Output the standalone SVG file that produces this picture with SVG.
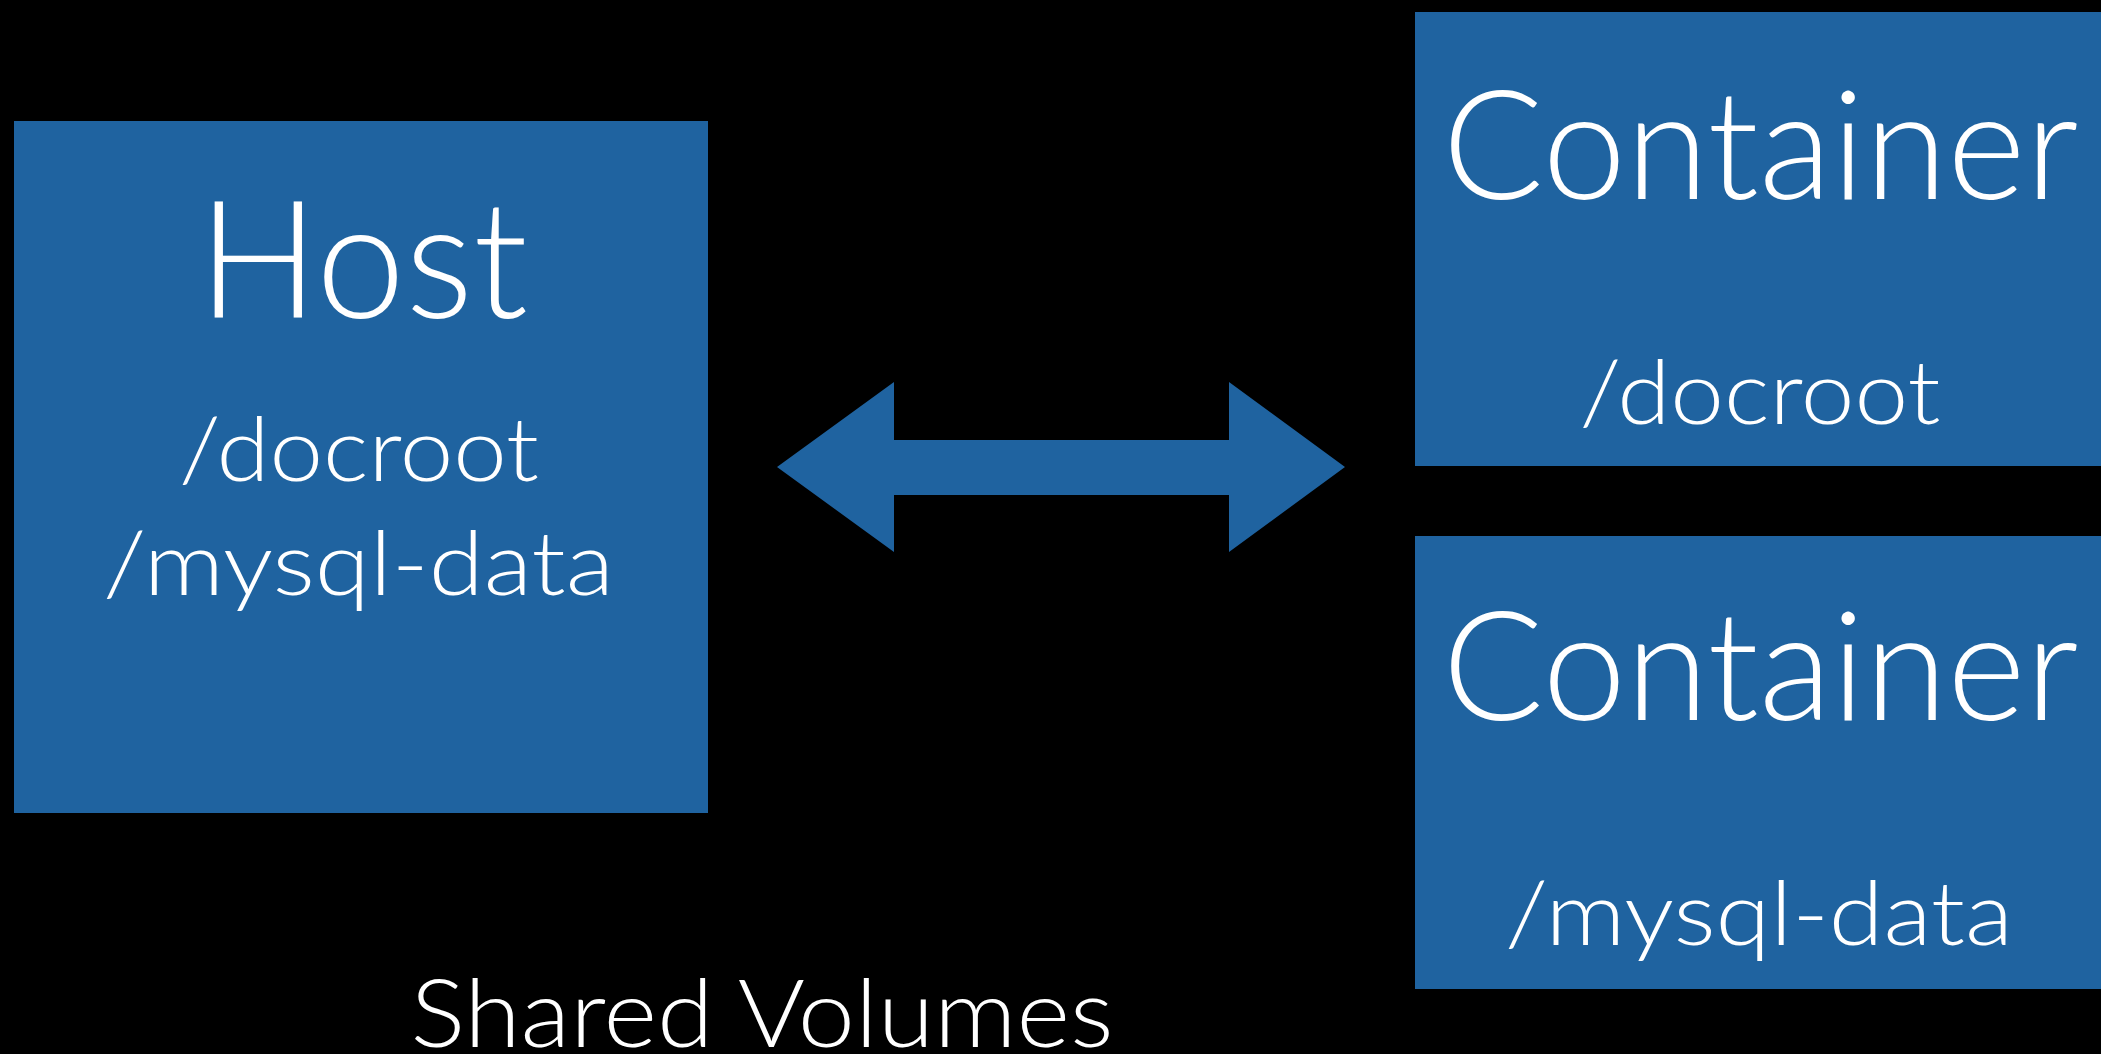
<svg xmlns="http://www.w3.org/2000/svg" width="2101" height="1054" viewBox="0 0 2101 1054">
<style>
.box{fill:#1f63a0}
.t{fill:#ffffff;font-family:"Lato","Liberation Sans",Arial,sans-serif;font-weight:300;text-anchor:middle}
.host{font-size:163px}
.big{font-size:153px}
.mid{font-size:88px}
.cap{font-size:94px}
</style>
<rect x="0" y="0" width="2101" height="1054" fill="#000000"/>
<g id="host">
<rect class="box" x="14" y="121" width="694" height="692"/>
<text class="t host" x="363" y="318" textLength="330" lengthAdjust="spacingAndGlyphs">Host</text>
<text class="t mid" x="359" y="481" textLength="360" lengthAdjust="spacingAndGlyphs">/docroot</text>
<text class="t mid" x="358.5" y="595" textLength="511" lengthAdjust="spacingAndGlyphs">/mysql-data</text>
</g>
<g id="container-docroot">
<rect class="box" x="1415" y="12" width="686" height="454"/>
<text class="t big" x="1760.5" y="199" textLength="636" lengthAdjust="spacingAndGlyphs">Container</text>
<text class="t mid" x="1760" y="424" textLength="361" lengthAdjust="spacingAndGlyphs">/docroot</text>
</g>
<g id="container-mysql">
<rect class="box" x="1415" y="536" width="686" height="453"/>
<text class="t big" x="1760.5" y="720" textLength="636" lengthAdjust="spacingAndGlyphs">Container</text>
<text class="t mid" x="1759" y="945" textLength="508" lengthAdjust="spacingAndGlyphs">/mysql-data</text>
</g>
<g id="connectors">
<polygon class="box" points="777,467 894,382 894,440 1229,440 1229,382 1345,467 1229,552 1229,495 894,495 894,552"/>
</g>
<g id="label">
<text class="t cap" x="762" y="1047" textLength="703" lengthAdjust="spacingAndGlyphs">Shared Volumes</text>
</g>
</svg>
